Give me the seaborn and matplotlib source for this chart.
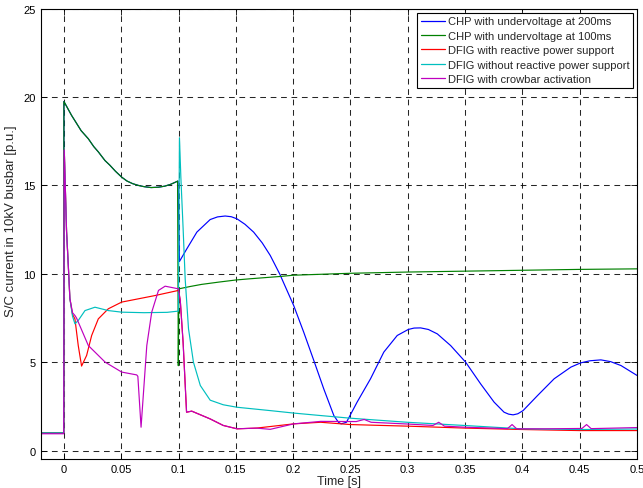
import numpy as np
import pandas as pd
import matplotlib
matplotlib.use("Agg")
import matplotlib.pyplot as plt
import seaborn as sns

# ---------------- data ----------------
labels = ["CHP with undervoltage at 200ms",
          "CHP with undervoltage at 100ms",
          "DFIG with reactive power support",
          "DFIG without reactive power support",
          "DFIG with crowbar activation"]
colors = ["#0000ff", "#008000", "#ff0000", "#00bfbf", "#bf00bf"]

green_t = [-0.02, -0.0002, 0.0, 0.0067, 0.01, 0.015, 0.0213, 0.026, 0.03, 0.0358, 0.04, 0.045,
           0.0504, 0.055, 0.06, 0.065, 0.07, 0.076, 0.0825, 0.088, 0.093, 0.0985, 0.0992,
           0.0998, 0.1003, 0.11, 0.12, 0.135, 0.15, 0.1626, 0.1888, 0.2, 0.25, 0.3, 0.35,
           0.4, 0.45, 0.5]
green_v = [1.0, 1.0, 19.75, 18.96, 18.62, 18.1, 17.64, 17.2, 16.9, 16.41, 16.15, 15.8,
           15.47, 15.25, 15.1, 15.0, 14.93, 14.88, 14.9, 14.96, 15.06, 15.22, 15.25,
           4.8, 9.15, 9.28, 9.4, 9.53, 9.65, 9.72, 9.85, 9.92, 10.03, 10.1, 10.15,
           10.2, 10.25, 10.28]

blue_t = [-0.02, -0.0002, 0.0, 0.0067, 0.01, 0.015, 0.0213, 0.026, 0.03, 0.0358, 0.04, 0.045,
          0.0504, 0.055, 0.06, 0.065, 0.07, 0.076, 0.0825, 0.088, 0.093, 0.0985, 0.0995,
          0.1008, 0.1072, 0.116, 0.1276, 0.134, 0.1407, 0.146, 0.151, 0.158, 0.1655, 0.173,
          0.18, 0.1882, 0.2005, 0.2092, 0.218, 0.2267, 0.2355, 0.2395, 0.2419, 0.2465,
          0.2558, 0.2675, 0.2791, 0.2908, 0.3004, 0.3055, 0.3112, 0.318, 0.3258, 0.3374,
          0.3505, 0.3636, 0.3753, 0.384, 0.388, 0.3919, 0.396, 0.4006, 0.4132, 0.4277,
          0.4423, 0.4508, 0.459, 0.4685, 0.477, 0.486, 0.5]
blue_v = [1.0, 1.0, 19.75, 18.96, 18.62, 18.1, 17.64, 17.2, 16.9, 16.41, 16.15, 15.8,
          15.47, 15.25, 15.1, 15.0, 14.93, 14.88, 14.9, 14.96, 15.06, 15.22, 15.25,
          10.7, 11.41, 12.36, 13.07, 13.22, 13.27, 13.23, 13.11, 12.8, 12.36, 11.75,
          11.04, 10.0, 8.2, 6.7, 5.1, 3.49, 1.98, 1.6, 1.51, 1.6,
          2.74, 4.06, 5.57, 6.51, 6.85, 6.93, 6.94, 6.85, 6.6, 5.94,
          5.0, 3.77, 2.74, 2.17, 2.06, 2.02, 2.08, 2.26, 3.11, 4.06,
          4.72, 4.96, 5.08, 5.13, 5.03, 4.81, 4.25]

red_t = [-0.02, -0.0002, 0.0003, 0.0023, 0.0038, 0.0052, 0.0075, 0.0096, 0.0125, 0.0154,
         0.0198, 0.0242, 0.03, 0.0387, 0.0504, 0.0795, 0.0999, 0.1015, 0.104, 0.107,
         0.1115, 0.1276, 0.139, 0.151, 0.168, 0.2005, 0.224, 0.25, 0.3, 0.35, 0.4, 0.45, 0.5]
red_v = [1.0, 1.0, 17.0, 12.4, 10.5, 8.6, 7.7, 7.45, 5.94, 4.78,
         5.38, 6.51, 7.45, 8.02, 8.4, 8.77, 9.06, 8.5, 6.1, 2.17,
         2.23, 1.79, 1.42, 1.23, 1.27, 1.51, 1.6, 1.47, 1.38, 1.27, 1.19, 1.13, 1.13]

cyan_t = [-0.02, -0.0002, 0.0003, 0.0023, 0.0038, 0.0052, 0.0075, 0.0096, 0.0125, 0.0184,
          0.0271, 0.0387, 0.0504, 0.07, 0.09, 0.0999, 0.1008, 0.102, 0.104, 0.1058, 0.1087,
          0.113, 0.119, 0.1276, 0.139, 0.151, 0.18, 0.2005, 0.224, 0.25, 0.2995, 0.349,
          0.399, 0.451, 0.5]
cyan_v = [1.0, 1.0, 17.0, 12.4, 10.5, 8.6, 7.6, 7.17, 7.36, 7.92,
          8.11, 7.92, 7.83, 7.8, 7.82, 7.89, 17.7, 15.5, 12.55, 9.7, 6.89,
          5.0, 3.68, 2.85, 2.59, 2.45, 2.26, 2.12, 1.98, 1.83, 1.6, 1.42,
          1.23, 1.19, 1.22]

mag_t = [-0.02, -0.0002, 0.0003, 0.0023, 0.0038, 0.0052, 0.0075, 0.0096, 0.011, 0.0213,
         0.036, 0.0504, 0.0635, 0.0645, 0.0673, 0.0723, 0.0766, 0.0825, 0.0883, 0.0999,
         0.1015, 0.104, 0.107, 0.1115, 0.1276, 0.139, 0.151, 0.168, 0.18, 0.2005, 0.224,
         0.255, 0.262, 0.268, 0.3, 0.322, 0.327, 0.332, 0.35, 0.387, 0.391, 0.395, 0.42,
         0.452, 0.456, 0.46, 0.5]
mag_v = [0.95, 0.95, 17.0, 12.4, 10.5, 8.6, 7.8, 7.64, 7.5, 5.94,
         5.0, 4.44, 4.28, 4.2, 1.32, 5.94, 7.83, 9.06, 9.3, 9.15,
         8.5, 6.1, 2.17, 2.23, 1.79, 1.42, 1.23, 1.27, 1.2, 1.51, 1.65,
         1.64, 1.76, 1.6, 1.5, 1.42, 1.6, 1.38, 1.32, 1.24, 1.47, 1.23, 1.23,
         1.25, 1.47, 1.24, 1.3]

x_ticks = [0, 0.05, 0.1, 0.15, 0.2, 0.25, 0.3, 0.35, 0.4, 0.45, 0.5]
x_tick_labels = ["0", "0.05", "0.1", "0.15", "0.2", "0.25", "0.3", "0.35", "0.4", "0.45", "0.5"]
y_ticks = [0, 5, 10, 15, 20, 25]

# ---------------- build long-form table ----------------
series = [(blue_t, blue_v), (green_t, green_v), (red_t, red_v), (cyan_t, cyan_v), (mag_t, mag_v)]
frames = []
for lab, (t, v) in zip(labels, series):
    frames.append(pd.DataFrame({"t": t, "v": v, "series": lab}))
df = pd.concat(frames, ignore_index=True)

# ---------------- plot ----------------
sns.set_theme(style="white")
plt.rcParams["font.family"] = ["Liberation Sans", "DejaVu Sans"]

fig = plt.figure(figsize=(6.43, 4.89), dpi=100)
ax = fig.add_axes([41 / 643, 1 - 459.5 / 489, 596 / 643, 449.8 / 489])

sns.lineplot(data=df, x="t", y="v", hue="series", hue_order=labels,
             palette=dict(zip(labels, colors)), estimator=None, sort=False,
             linewidth=0.85, ax=ax)

ax.set_xlim(-0.02, 0.5)
ax.set_ylim(-0.45, 25)
ax.set_xticks(x_ticks)
ax.set_xticklabels(x_tick_labels)
ax.set_yticks(y_ticks)
ax.set_xlabel("Time [s]", fontsize=9, labelpad=1)
ax.set_ylabel("S/C current in 10kV busbar [p.u.]", fontsize=9.5)
ax.yaxis.set_label_coords(-0.040, 0.53)
ax.tick_params(axis="both", labelsize=8, direction="in", length=4, width=0.6,
               top=True, right=True, bottom=True, left=True, pad=4, colors="black")
ax.grid(True, color="black", linestyle=(0, (5.5, 4.5)), linewidth=0.75, alpha=0.85)
for s in ax.spines.values():
    s.set_visible(True)
    s.set_color("black")
    s.set_linewidth(0.8)

leg = ax.legend(loc="upper right", fontsize=8, frameon=True, fancybox=False,
                framealpha=1, edgecolor="black", handlelength=2.2, handletextpad=0.2,
                labelspacing=0.4, borderpad=0.35, borderaxespad=0.35)
leg.get_frame().set_linewidth(0.8)
for line in leg.get_lines():
    line.set_linewidth(0.9)

fig.savefig("out.png", dpi=100)
